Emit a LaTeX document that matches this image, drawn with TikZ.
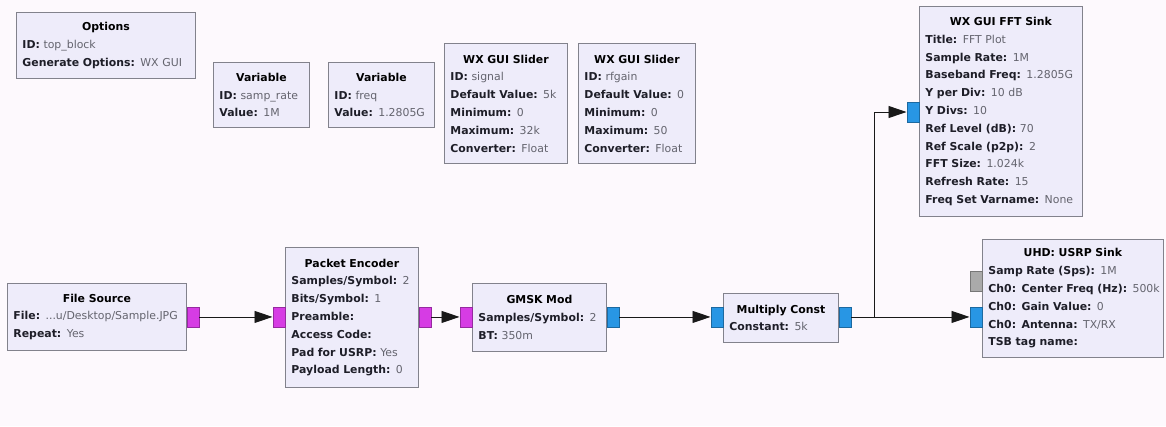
\documentclass[tikz,border=0pt]{standalone}
\usepackage{fontspec}
\setmainfont{DejaVu Sans}
\usetikzlibrary{arrows.meta}
\definecolor{bgcol}{RGB}{253,249,253}
\definecolor{boxfill}{RGB}{238,236,250}
\definecolor{boxline}{RGB}{130,130,140}
\definecolor{keycol}{RGB}{30,30,40}
\definecolor{valcol}{RGB}{100,100,110}
\definecolor{portmag}{RGB}{214,60,228}
\definecolor{portblue}{RGB}{40,150,228}
\definecolor{portgray}{RGB}{170,170,170}
\definecolor{wirecol}{RGB}{25,25,25}
\newcommand{\blockfont}{\fontsize{10.9}{17.8}\selectfont}
\newcommand{\key}[1]{\textcolor{keycol}{\textbf{#1}}}
\newcommand{\val}[1]{\textcolor{valcol}{#1}}
\newcommand{\ttl}[1]{\makebox[\linewidth]{\textbf{#1}}}
\tikzset{
  block/.style={draw=boxline, line width=0.9pt, fill=boxfill, anchor=north west,
    inner xsep=6pt, inner ysep=0pt, align=left, font=\blockfont},
  portbase/.style={draw=#1!70!black, line width=0.5pt, fill=#1, minimum width=12pt,
    minimum height=20pt, inner sep=0pt},
  magport/.style={portbase=portmag},
  blueport/.style={portbase=portblue},
  grayport/.style={portbase=portgray},
  wire/.style={draw=wirecol, line width=0.9pt, -{Triangle[length=18pt,width=12pt]}}
}
\begin{document}
\begin{tikzpicture}[x=1pt,y=-1pt]
\fill[bgcol] (0,0) rectangle (1166,426);
\useasboundingbox (0,0) rectangle (1166,426);

% parameter blocks
\node[block, text width=167pt, minimum height=66pt] (opts) at (16,12)
 {\ttl{Options}\\ \key{ID:} \val{top\_block}\\ \key{Generate Options:} \val{WX GUI}};
\node[block, text width=84pt, minimum height=65pt] (var1) at (213,62)
 {\ttl{Variable}\\ \key{ID:} \val{samp\_rate}\\ \key{Value:} \val{1M}};
\node[block, text width=94pt, minimum height=65pt] (var2) at (328,62)
 {\ttl{Variable}\\ \key{ID:} \val{freq}\\ \key{Value:} \val{1.2805G}};
\node[block, text width=111pt, minimum height=120pt] (sl1) at (444,43)
 {\ttl{WX GUI Slider}\\ \key{ID:} \val{signal}\\ \key{Default Value:} \val{5k}\\
  \key{Minimum:} \val{0}\\ \key{Maximum:} \val{32k}\\ \key{Converter:} \val{Float}};
\node[block, text width=105pt, minimum height=120pt] (sl2) at (578,43)
 {\ttl{WX GUI Slider}\\ \key{ID:} \val{rfgain}\\ \key{Default Value:} \val{0}\\
  \key{Minimum:} \val{0}\\ \key{Maximum:} \val{50}\\ \key{Converter:} \val{Float}};

% FFT sink
\node[block, text width=151pt, minimum height=210pt] (fft) at (919,6)
 {\ttl{WX GUI FFT Sink}\\ \key{Title:} \val{FFT Plot}\\ \key{Sample Rate:} \val{1M}\\
  \key{Baseband Freq:} \val{1.2805G}\\ \key{Y per Div:} \val{10 dB}\\ \key{Y Divs:} \val{10}\\
  \key{Ref Level (dB):} \val{70}\\ \key{Ref Scale (p2p):} \val{2}\\ \key{FFT Size:} \val{1.024k}\\
  \key{Refresh Rate:} \val{15}\\ \key{Freq Set Varname:} \val{None}};

% signal chain
\node[block, text width=167pt, minimum height=67pt] (fs) at (7,283)
 {\ttl{File Source}\\ \key{File:} \val{...u/Desktop/Sample.JPG}\\ \key{Repeat:} \val{Yes}};
\node[block, text width=121pt, minimum height=140pt] (pe) at (285,247)
 {\ttl{Packet Encoder}\\ \key{Samples/Symbol:} \val{2}\\ \key{Bits/Symbol:} \val{1}\\
  \key{Preamble:}\\ \key{Access Code:}\\ \key{Pad for USRP:} \val{Yes}\\ \key{Payload Length:} \val{0}};
\node[block, text width=122pt, minimum height=68pt] (gm) at (472,283)
 {\ttl{GMSK Mod}\\ \key{Samples/Symbol:} \val{2}\\ \key{BT:} \val{350m}};
\node[block, text width=103pt, minimum height=49pt] (mc) at (723,293)
 {\ttl{Multiply Const}\\ \key{Constant:} \val{5k}};
\node[block, text width=169pt, minimum height=118pt] (us) at (982,239)
 {\ttl{UHD: USRP Sink}\\ \key{Samp Rate (Sps):} \val{1M}\\
  \makebox[\linewidth][l]{\key{Ch0: Center Freq (Hz):} \val{500k}}\\
  \key{Ch0: Gain Value:} \val{0}\\ \key{Ch0: Antenna:} \val{TX/RX}\\ \key{TSB tag name:}};

% ports
\node[magport, anchor=west] (fsO) at (fs.east) {};
\node[magport, anchor=east] (peI) at (pe.west |- fs.east) {};
\node[magport, anchor=west] (peO) at (pe.east |- fs.east) {};
\node[magport, anchor=east] (gmI) at (gm.west |- fs.east) {};
\node[blueport, anchor=west] (gmO) at (gm.east |- fs.east) {};
\node[blueport, anchor=east] (mcI) at (mc.west |- fs.east) {};
\node[blueport, anchor=west] (mcO) at (mc.east |- fs.east) {};
\node[blueport, anchor=east] (usI) at (us.west |- fs.east) {};
\node[grayport, anchor=east] (usM) at (982,281) {};
\node[blueport, anchor=east] (fftI) at (919,112) {};

% wires
\draw[wire] (fsO.east) -- (peI.west);
\draw[wire] (peO.east) -- (gmI.west);
\draw[wire] (gmO.east) -- (mcI.west);
\draw[wire] (mcO.east) -- (usI.west);
\path (mcO.east) ++(23,0) coordinate (br);
\draw[wire] (br) |- (fftI.west);
\end{tikzpicture}
\end{document}
